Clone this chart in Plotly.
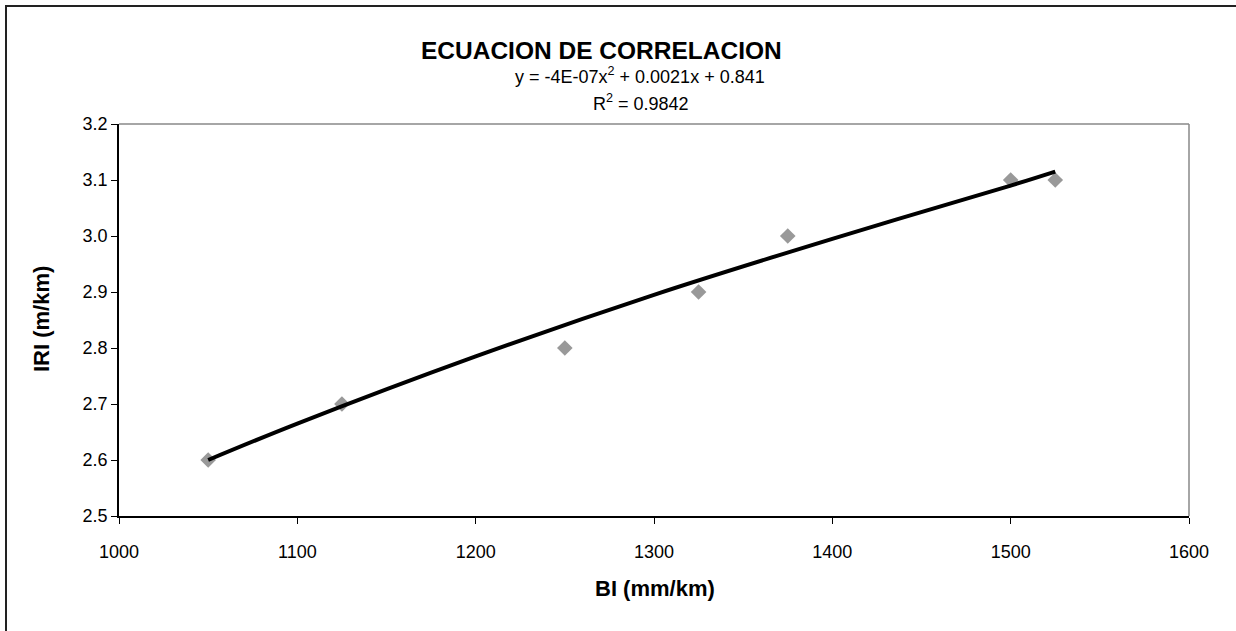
import plotly.graph_objects as go

# Datos medidos
bi_mm_km = [1050, 1125, 1250, 1325, 1375, 1500, 1525]
iri_m_km = [2.6, 2.7, 2.8, 2.9, 3.0, 3.1, 3.1]

# Línea de tendencia
trend_x = [1050, 1100, 1200, 1300, 1400, 1500, 1525]
trend_y = [2.600, 2.665, 2.785, 2.895, 2.995, 3.090, 3.115]

x_ticks = [1000, 1100, 1200, 1300, 1400, 1500, 1600]
y_ticks = [2.5, 2.6, 2.7, 2.8, 2.9, 3.0, 3.1, 3.2]
y_labels = ["2.5", "2.6", "2.7", "2.8", "2.9", "3.0", "3.1", "3.2"]

W, H = 1236, 631
L, R, T, B = 119, 1189, 124, 516


def px(x):
    return (x - L) / (R - L)


def py(y):
    return (B - y) / (B - T)


font = "Liberation Sans, Arial, sans-serif"

fig = go.Figure()
fig.add_trace(go.Scatter(
    x=bi_mm_km, y=iri_m_km, mode="markers",
    marker=dict(symbol="diamond", size=12, color="#999999"),
    showlegend=False,
))
fig.add_trace(go.Scatter(
    x=trend_x, y=trend_y, mode="lines",
    line=dict(color="black", width=4, shape="spline"),
    showlegend=False,
))


def label(text, x, y, size, angle=0):
    return dict(text=text, xref="paper", yref="paper", x=px(x), y=py(y),
                xanchor="center", yanchor="middle", showarrow=False,
                textangle=angle, font=dict(size=size))


fig.update_layout(
    width=W, height=H,
    margin=dict(l=L, r=W - R, t=T, b=H - B),
    paper_bgcolor="white", plot_bgcolor="white",
    font=dict(family=font, size=18, color="black"),
    xaxis=dict(
        range=[1000, 1600], tickvals=x_ticks, ticks="outside", ticklen=6,
        tickcolor="black", showgrid=False, zeroline=False,
        showline=True, linecolor="black", linewidth=1.5,
        ticklabelstandoff=13,
    ),
    yaxis=dict(
        range=[2.5, 3.2], tickvals=y_ticks, ticktext=y_labels, ticks="outside",
        ticklen=6, tickcolor="black", showgrid=False, zeroline=False,
        showline=True, linecolor="black", linewidth=1.5,
    ),
    shapes=[
        # borde gris del área de trazado (arriba y derecha)
        dict(type="line", xref="paper", yref="paper", x0=0, x1=1, y0=1, y1=1,
             line=dict(color="#888888", width=1.5)),
        dict(type="line", xref="paper", yref="paper", x0=1, x1=1, y0=0, y1=1,
             line=dict(color="#888888", width=1.5)),
        # marco exterior del gráfico
        dict(type="rect", xref="paper", yref="paper",
             x0=px(6), x1=px(1250), y0=py(650), y1=py(6),
             line=dict(color="#222222", width=2)),
    ],
    annotations=[
        label("<b>ECUACION DE CORRELACION</b>", 601, 50, 24.5),
        label("y = -4E-07x<sup>2</sup> + 0.0021x + 0.841", 640, 75, 18),
        label("R<sup>2</sup> = 0.9842", 641, 103, 18),
        label("<b>BI (mm/km)</b>", 655, 588, 22),
        label("<b>IRI (m/km)</b>", 41, 319, 22, angle=-90),
    ],
)

fig.write_html("out.html", config={"displayModeBar": False},
               post_script="document.body.style.margin='0px';")
